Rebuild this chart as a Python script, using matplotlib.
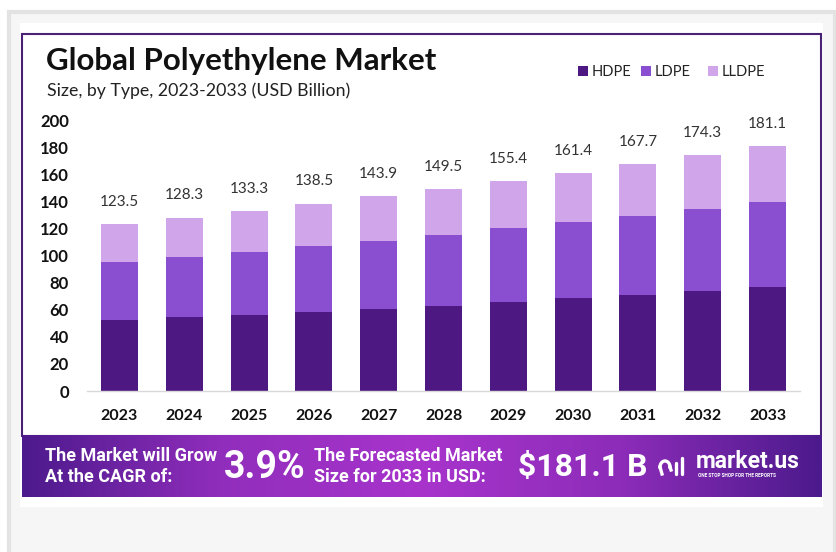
import matplotlib
matplotlib.use("Agg")
import matplotlib.pyplot as plt
import numpy as np
from matplotlib.patches import Rectangle

years = ["2023", "2024", "2025", "2026", "2027", "2028", "2029", "2030", "2031", "2032", "2033"]
hdpe = [52.5, 54.5, 56.2, 58.7, 60.6, 62.9, 65.6, 68.6, 70.8, 74.0, 76.9]
ldpe = [43.1, 44.4, 46.8, 48.5, 50.4, 52.5, 54.7, 56.2, 58.6, 60.8, 63.1]
totals = [123.5, 128.3, 133.3, 138.5, 143.9, 149.5, 155.4, 161.4, 167.7, 174.3, 181.1]
lldpe = [round(t - h - l, 1) for t, h, l in zip(totals, hdpe, ldpe)]
series_names = ["HDPE", "LDPE", "LLDPE"]
colors = ["#4e1882", "#8a4fd0", "#d0a5ea"]
yticks = [0, 20, 40, 60, 80, 100, 120, 140, 160, 180, 200]

W, H = 836, 552
fig = plt.figure(figsize=(W / 100, H / 100), dpi=100)
fig.patch.set_facecolor("white")

# background decoration axes in pixel coordinates
bg = fig.add_axes([0, 0, 1, 1])
bg.set_xlim(0, W)
bg.set_ylim(H, 0)
bg.axis("off")
bg.add_patch(Rectangle((8.5, 11.5), 826, 545, facecolor="#f6f6f6", edgecolor="#e3e3e3", lw=3))
bg.add_patch(Rectangle((20, 23), 803, 484, facecolor="white", edgecolor="none"))
bg.add_patch(Rectangle((22, 34), 799, 402, facecolor="white", edgecolor="#4a2275", lw=1.5))

# banner gradient
grad_x = np.linspace(0, 1, 400)
profile = np.interp(grad_x, [0, 0.25, 0.5, 0.75, 1.0], [0.0, 0.75, 1.0, 0.7, 0.0])
c_dark = np.array([0x4c, 0x1a, 0x8c]) / 255
c_light = np.array([0xa8, 0x34, 0xcc]) / 255
img = c_dark[None, None, :] + (c_light - c_dark)[None, None, :] * profile[None, :, None]
img = np.repeat(img, 2, axis=0)
bg.imshow(img, extent=(22, 822, 497, 435), aspect="auto", zorder=2, interpolation="bilinear")

tf = "Roboto"
bg.text(45, 456, "The Market will Grow", color="white", fontsize=13, fontweight="bold",
        family=tf, va="center", ha="left", zorder=3)
bg.text(45, 477, "At the CAGR of:", color="white", fontsize=13, fontweight="bold",
        family=tf, va="center", ha="left", zorder=3)
bg.text(224, 467, "3.9%", color="white", fontsize=27, fontweight="bold",
        family=tf, va="center", ha="left", zorder=3)
bg.text(314, 456, "The Forecasted Market", color="white", fontsize=13, fontweight="bold",
        family=tf, va="center", ha="left", zorder=3)
bg.text(314, 477, "Size for 2033 in USD:", color="white", fontsize=13, fontweight="bold",
        family=tf, va="center", ha="left", zorder=3)
bg.text(518, 467, "$181.1 B", color="white", fontsize=23, fontweight="bold",
        family=tf, va="center", ha="left", zorder=3)
# logo icon
bg.plot([676, 676], [463, 474], color="white", lw=2.4, zorder=3, solid_capstyle="round")
bg.plot([682, 682], [458, 474], color="white", lw=2.4, zorder=3, solid_capstyle="round")
th = np.linspace(np.pi, 2 * np.pi, 30)
bg.plot(665 + 5 * np.cos(th), 467 + 6 * np.sin(th), color="white", lw=2.4, zorder=3)
bg.plot([660, 662], [467, 474], color="white", lw=2.4, zorder=3)
bg.plot([670, 671], [467, 470], color="white", lw=2.4, zorder=3)
bg.text(696, 462, "market.us", color="white", fontsize=16.5, fontweight="bold",
        family=tf, va="center", ha="left", zorder=3)
bg.text(698, 475.5, "ONE STOP SHOP FOR THE REPORTS", color="white", fontsize=3.4, fontweight="bold",
        family=tf, va="center", ha="left", zorder=3)

# titles
bg.text(46, 61, "Global Polyethylene Market", fontsize=22.5, fontweight="bold", family="Lato",
        color="#111111", va="center", ha="left")
bg.text(47, 91, "Size, by Type, 2023-2033 (USD Billion)", fontsize=12.8, family="Lato",
        color="#222222", va="center", ha="left")

# legend
lx = [578, 641, 708]
for x0, name, c in zip(lx, series_names, colors):
    bg.add_patch(Rectangle((x0, 66), 10, 10, facecolor=c, edgecolor="none"))
    bg.text(x0 + 14, 71.5, name, fontsize=10.5, family="Lato", color="#222222",
            va="center", ha="left")

# chart axes
ax = fig.add_axes([87 / W, 1 - 391 / H, (800 - 87) / W, (391 - 120.6) / H])
ax.set_facecolor("none")
x = np.arange(len(years))
bw = 0.57
bottom = np.zeros(len(years))
for vals, c, name in zip([hdpe, ldpe, lldpe], colors, series_names):
    ax.bar(x, vals, bw, bottom=bottom, color=c, label=name, zorder=2)
    bottom += np.array(vals)
for xi, t in zip(x, totals):
    ax.annotate(f"{t}", (xi, t), xytext=(0, 11), textcoords="offset points",
                ha="center", va="bottom", fontsize=11, family="Lato", color="#333333")
ax.set_xlim(-0.5, 10.5)
ax.set_ylim(0, 200)
ax.set_yticks(yticks)
ax.set_yticklabels([str(v) for v in yticks], fontsize=12, fontweight="bold", family="Lato",
                   color="#111111")
ax.set_xticks(x)
ax.set_xticklabels(years, fontsize=11.5, fontweight="bold", family="Lato", color="#111111")
ax.tick_params(axis="both", length=0)
ax.tick_params(axis="y", pad=13)
ax.tick_params(axis="x", pad=13)
for s in ["top", "right", "left"]:
    ax.spines[s].set_visible(False)
ax.spines["bottom"].set_color("#d8d8d8")
ax.spines["bottom"].set_linewidth(1)

fig.savefig("out.png", dpi=100)
